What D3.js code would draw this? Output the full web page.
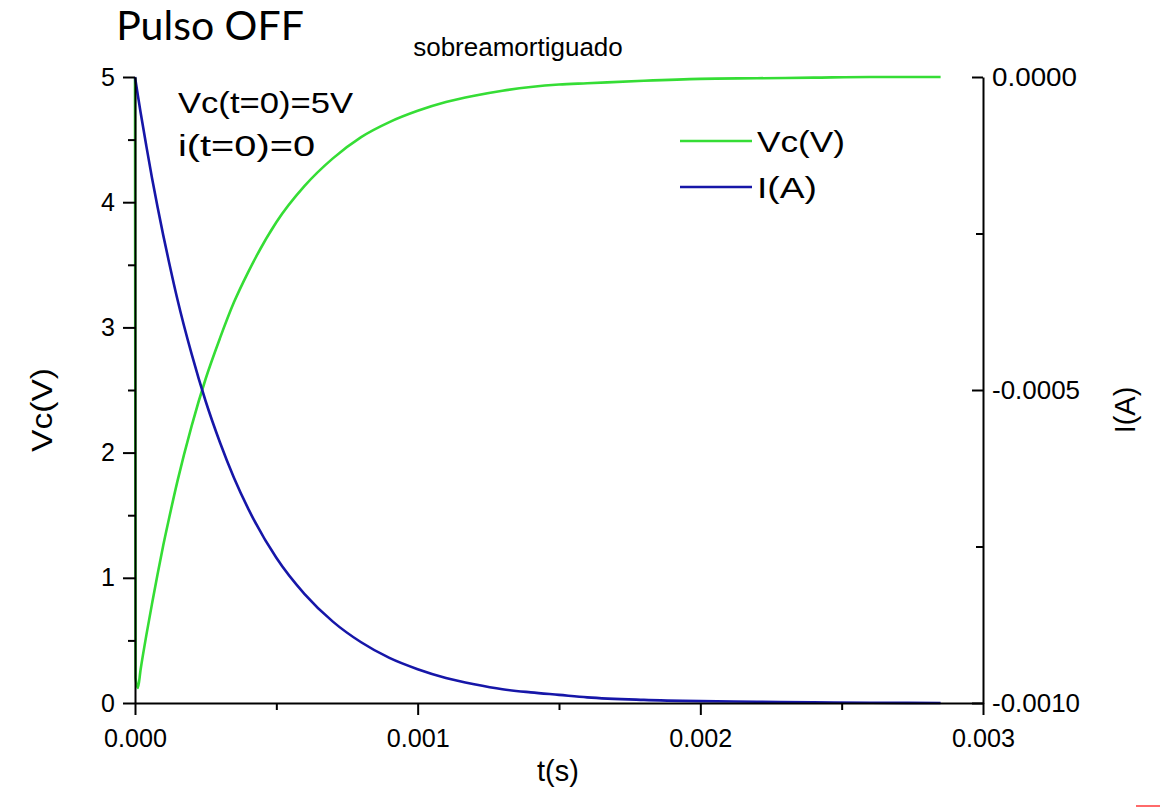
<!DOCTYPE html>
<html>
<head>
<meta charset="utf-8">
<script src="https://cdn.jsdelivr.net/npm/d3@7"></script>
<style>
  html, body { margin: 0; padding: 0; background: #fff; }
  svg { display: block; }
  text { font-family: "Liberation Sans", Arial, sans-serif; fill: #000; }
</style>
</head>
<body>
<svg id="chart" width="1162" height="807"></svg>
<script>
// ---- data ----
const timeS = [0, 0.000002, 0.00001, 0.00002, 0.00004, 0.00006, 0.00008, 0.0001, 0.00012, 0.00015,
  0.0002, 0.00025, 0.0003, 0.00035, 0.0004, 0.0005, 0.0006, 0.0007, 0.0008, 0.0009,
  0.001, 0.0011, 0.0012, 0.0013, 0.0014, 0.0015, 0.0016, 0.0018, 0.002, 0.0022,
  0.0024, 0.0026, 0.00285];
const vcValues = [5, 0.2, 0.12, 0.27, 0.54, 0.79, 1.03, 1.26, 1.47, 1.77,
  2.21, 2.59, 2.91, 3.2, 3.44, 3.84, 4.13, 4.35, 4.52, 4.64,
  4.73, 4.8, 4.85, 4.89, 4.92, 4.94, 4.95, 4.97, 4.985, 4.99,
  4.995, 5.0, 5.0];
const iValues = [0, -0.000006, -0.000029, -0.000057, -0.00011, -0.000161, -0.000208, -0.000253, -0.000295, -0.000355,
  -0.000442, -0.000518, -0.000583, -0.00064, -0.000689, -0.000768, -0.000826, -0.00087, -0.000903, -0.000928,
  -0.000946, -0.00096, -0.00097, -0.000978, -0.000983, -0.000987, -0.000991, -0.000995, -0.000997, -0.000998,
  -0.000999, -0.0009995, -0.001];
const xTicks = [0, 0.001, 0.002, 0.003];
const xTickLabels = ["0.000", "0.001", "0.002", "0.003"];
const xMinorTicks = [0.0005, 0.0015, 0.0025];
const yLeftTicks = [0, 1, 2, 3, 4, 5];
const yLeftMinorTicks = [0.5, 1.5, 2.5, 3.5, 4.5];
const yRightTicks = [0, -0.0005, -0.001];
const yRightTickLabels = ["0.0000", "-0.0005", "-0.0010"];
const yRightMinorTicks = [-0.00025, -0.00075];
const seriesNames = ["Vc(V)", "I(A)"];
const titleText = "sobreamortiguado";
const headerText = "Pulso OFF";
const noteLines = ["Vc(t=0)=5V", "i(t=0)=0"];

// ---- layout ----
const svg = d3.select("#chart");
const L = 135, R = 983, T = 77, B = 703;
const green = "#35dd35", blue = "#1616a8";

const x = d3.scaleLinear().domain([0, 0.003]).range([L, R]);
const yL = d3.scaleLinear().domain([0, 5]).range([B, T]);
const yR = d3.scaleLinear().domain([-0.001, 0]).range([B, T]);

// curves
const vcData = timeS.map((t, i) => [t, vcValues[i]]);
const iData = timeS.map((t, i) => [t, iValues[i]]);

svg.append("path").datum(vcData)
  .attr("d", d3.line().curve(d3.curveMonotoneX).x(d => x(d[0])).y(d => yL(d[1])))
  .attr("fill", "none").attr("stroke", green).attr("stroke-width", 2.6)
  .attr("stroke-linejoin", "round");

svg.append("path").datum(iData)
  .attr("d", d3.line().curve(d3.curveMonotoneX).x(d => x(d[0])).y(d => yR(d[1])))
  .attr("fill", "none").attr("stroke", blue).attr("stroke-width", 2.6)
  .attr("stroke-linejoin", "round");

// axes
function styleAxis(g, len) {
  g.attr("font-size", null).attr("font-family", null);
  g.select(".domain").attr("stroke", "#000").attr("stroke-width", 2);
  g.selectAll(".tick line").attr("stroke", "#000").attr("stroke-width", 2);
  g.selectAll(".tick text").style("font-size", "25px").attr("fill", "#000");
  if (len) {
    g.selectAll(".tick text").attr("textLength", len).attr("lengthAdjust", "spacingAndGlyphs");
  }
}
function styleMinor(g) {
  g.select(".domain").remove();
  g.selectAll(".tick line").attr("stroke", "#000").attr("stroke-width", 2);
}

// bottom
const xAxis = svg.append("g").attr("transform", `translate(0,${B})`)
  .call(d3.axisBottom(x).tickValues(xTicks).tickFormat((d, i) => xTickLabels[i])
    .tickSizeInner(12).tickSizeOuter(0).tickPadding(14));
styleAxis(xAxis, 63);
svg.append("g").attr("transform", `translate(0,${B})`)
  .call(d3.axisBottom(x).tickValues(xMinorTicks).tickFormat("").tickSizeInner(7).tickSizeOuter(0))
  .call(styleMinor);

// left
const yAxisL = svg.append("g").attr("transform", `translate(${L},0)`)
  .call(d3.axisLeft(yL).tickValues(yLeftTicks).tickFormat(d3.format("d"))
    .tickSizeInner(12).tickSizeOuter(0).tickPadding(8));
styleAxis(yAxisL);
svg.append("g").attr("transform", `translate(${L},0)`)
  .call(d3.axisLeft(yL).tickValues(yLeftMinorTicks).tickFormat("").tickSizeInner(7).tickSizeOuter(0))
  .call(styleMinor);

// right (ticks pointing inward)
const yAxisR = svg.append("g").attr("transform", `translate(${R},0)`)
  .call(d3.axisRight(yR).tickValues(yRightTicks).tickFormat((d, i) => yRightTickLabels[i])
    .tickSizeInner(-11).tickSizeOuter(0).tickPadding(9));
styleAxis(yAxisR);
yAxisR.selectAll(".tick text")
  .attr("textLength", (d, i) => i === 0 ? 85 : 88).attr("lengthAdjust", "spacingAndGlyphs");
svg.append("g").attr("transform", `translate(${R},0)`)
  .call(d3.axisRight(yR).tickValues(yRightMinorTicks).tickFormat("").tickSizeInner(-7).tickSizeOuter(0))
  .call(styleMinor);

// axis titles
svg.append("text").attr("x", 558).attr("y", 781).attr("text-anchor", "middle")
  .style("font-size", "29px").text("t(s)");
svg.append("text").attr("transform", "translate(52,410) rotate(-90)").attr("text-anchor", "middle")
  .style("font-size", "29px").attr("textLength", 84).attr("lengthAdjust", "spacingAndGlyphs").text("Vc(V)");
svg.append("text").attr("transform", "translate(1135,410) rotate(-90)").attr("text-anchor", "middle")
  .style("font-size", "29px").text("I(A)");

// titles
svg.append("text").attr("x", 518).attr("y", 56).attr("text-anchor", "middle")
  .style("font-size", "26px").text(titleText);
svg.append("text").attr("x", 210).attr("y", 40).attr("text-anchor", "middle")
  .style("font-family", "Lato, 'Open Sans', sans-serif").style("font-size", "41px").text(headerText);

// annotation
svg.append("text").attr("x", 178).attr("y", 113).style("font-size", "30px")
  .attr("textLength", 175).attr("lengthAdjust", "spacingAndGlyphs").text(noteLines[0]);
svg.append("text").attr("x", 178).attr("y", 156).style("font-size", "30px")
  .attr("textLength", 137).attr("lengthAdjust", "spacingAndGlyphs").text(noteLines[1]);

// legend
const legendColors = [green, blue];
const legendY = [141, 187];
const legendLen = [88, 60];
seriesNames.forEach((name, i) => {
  svg.append("line").attr("x1", 680).attr("x2", 752).attr("y1", legendY[i]).attr("y2", legendY[i])
    .attr("stroke", legendColors[i]).attr("stroke-width", 2.6);
  svg.append("text").attr("x", 757).attr("y", legendY[i] + 11).style("font-size", "30px")
    .attr("textLength", legendLen[i]).attr("lengthAdjust", "spacingAndGlyphs").text(name);
});

// small red mark at bottom-right edge
svg.append("line").attr("x1", 1136).attr("x2", 1160).attr("y1", 806).attr("y2", 806)
  .attr("stroke", "#ff6a6a").attr("stroke-width", 2);
</script>
</body>
</html>
